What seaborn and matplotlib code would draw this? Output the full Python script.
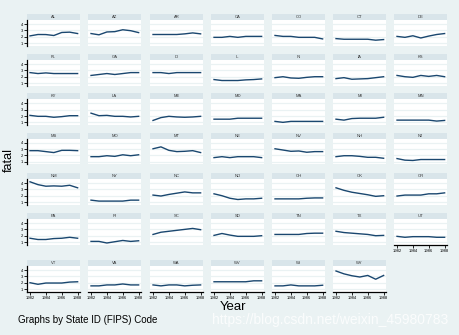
import numpy as np
import pandas as pd
import seaborn as sns
import matplotlib
matplotlib.use("Agg")
import matplotlib.pyplot as plt
from matplotlib.patches import Rectangle

# ---------------- data ----------------
years = [1982, 1983, 1984, 1985, 1986, 1987, 1988]
states = ["AL", "AZ", "AR", "CA", "CO", "CT", "DE",
          "FL", "GA", "ID", "IL", "IN", "IA", "KS",
          "KY", "LA", "ME", "MD", "MA", "MI", "MN",
          "MS", "MO", "MT", "NE", "NV", "NH", "NJ",
          "NM", "NY", "NC", "ND", "OH", "OK", "OR",
          "PA", "RI", "SC", "SD", "TN", "TX", "UT",
          "VT", "VA", "WA", "WV", "WI", "WY"]

AL = [2.13, 2.35, 2.34, 2.19, 2.67, 2.72, 2.50]
AZ = [2.50, 2.30, 2.75, 2.80, 3.10, 2.95, 2.65]
AR = [2.35, 2.35, 2.35, 2.35, 2.45, 2.60, 2.45]
CA = [1.90, 1.90, 2.05, 1.90, 2.05, 2.05, 2.05]
CO = [2.20, 2.05, 2.05, 1.90, 1.90, 1.90, 1.65]
CT = [1.70, 1.60, 1.60, 1.60, 1.60, 1.45, 1.55]
DE = [2.05, 1.90, 2.15, 1.80, 2.10, 2.35, 2.50]
FL = [2.65, 2.50, 2.60, 2.50, 2.50, 2.50, 2.50]
GA = [2.20, 2.35, 2.50, 2.35, 2.50, 2.65, 2.65]
ID = [2.65, 2.65, 2.50, 2.65, 2.65, 2.65, 2.65]
IL = [1.55, 1.40, 1.40, 1.40, 1.50, 1.55, 1.65]
IN = [1.85, 2.00, 1.80, 1.75, 1.90, 2.00, 2.00]
IA = [1.70, 1.85, 1.60, 1.65, 1.70, 1.85, 2.00]
KS = [2.20, 2.00, 1.90, 2.20, 2.05, 2.20, 2.00]
KY = [2.10, 1.95, 1.95, 1.80, 1.90, 2.05, 2.05]
LA = [2.45, 2.05, 2.10, 1.95, 1.95, 1.85, 1.95]
ME = [1.30, 1.75, 1.95, 1.85, 1.80, 1.85, 1.95]
MD = [1.50, 1.50, 1.50, 1.65, 1.65, 1.65, 1.65]
MA = [1.15, 1.00, 1.15, 1.15, 1.15, 1.15, 1.15]
MI = [1.50, 1.35, 1.60, 1.65, 1.65, 1.65, 1.80]
MN = [1.35, 1.35, 1.35, 1.35, 1.35, 1.20, 1.30]
MS = [2.75, 2.75, 2.60, 2.45, 2.80, 2.80, 2.75]
MO = [1.80, 1.80, 1.95, 1.85, 2.10, 1.95, 2.10]
MT = [3.05, 3.35, 2.80, 2.60, 2.65, 2.75, 2.45]
NE = [1.65, 1.80, 1.65, 1.80, 1.80, 1.80, 1.65]
NV = [3.05, 2.85, 2.65, 2.70, 2.50, 2.60, 2.60]
NH = [1.80, 1.95, 1.95, 1.85, 1.70, 1.70, 1.55]
NJ = [1.50, 1.25, 1.20, 1.35, 1.35, 1.35, 1.35]
NM = [4.20, 3.75, 3.50, 3.55, 3.50, 3.65, 3.25]
NY = [1.30, 1.15, 1.15, 1.15, 1.15, 1.30, 1.30]
NC = [2.10, 1.95, 2.20, 2.40, 2.60, 2.45, 2.45]
ND = [2.30, 2.00, 1.60, 1.40, 1.50, 1.50, 1.60]
OH = [1.50, 1.50, 1.50, 1.50, 1.60, 1.65, 1.65]
OK = [3.25, 2.85, 2.55, 2.35, 2.15, 1.90, 2.00]
OR = [1.95, 2.10, 2.10, 2.10, 2.30, 2.30, 2.45]
PA = [1.60, 1.40, 1.40, 1.55, 1.60, 1.75, 1.60]
RI = [1.10, 1.10, 0.85, 1.05, 1.25, 1.10, 1.20]
SC = [2.20, 2.55, 2.70, 2.85, 3.00, 3.15, 2.95]
SD = [2.05, 2.35, 2.10, 1.90, 1.90, 1.90, 2.00]
TN = [2.20, 2.20, 2.20, 2.20, 2.35, 2.40, 2.40]
TX = [2.70, 2.50, 2.40, 2.30, 2.20, 2.00, 2.05]
UT = [1.90, 1.75, 1.85, 1.85, 1.85, 1.75, 1.75]
VT = [2.00, 1.75, 1.95, 1.95, 1.95, 2.10, 2.15]
VA = [1.50, 1.50, 1.65, 1.65, 1.80, 1.65, 1.65]
WA = [1.65, 1.50, 1.65, 1.65, 1.50, 1.60, 1.65]
WV = [2.15, 2.15, 2.15, 2.15, 2.15, 2.30, 2.30]
WI = [1.50, 1.50, 1.65, 1.50, 1.50, 1.50, 1.60]
WY = [3.85, 3.40, 3.10, 2.90, 3.15, 2.55, 3.15]

y_ticks = [1, 2, 3, 4]
x_ticks = [1982, 1984, 1986, 1988]

series = {s: globals()[s] for s in states}
rows = []
for s in states:
    for yr, v in zip(years, series[s]):
        rows.append({"state": s, "year": yr, "fatal": v})
df = pd.DataFrame(rows)

# ---------------- style ----------------
BG = "#EAF2F3"
STRIP = "#D9E5EA"
LINE = "#1A476F"
plt.rcParams["font.family"] = ["Liberation Sans", "DejaVu Sans"]

W, H = 459, 335
g = sns.relplot(data=df, x="year", y="fatal", col="state", col_wrap=7,
                kind="line", color=LINE, linewidth=1.0,
                col_order=states, height=1, aspect=1,
                facet_kws=dict(sharex=True, sharey=True))
fig = g.figure
fig.set_size_inches(W / 100, H / 100)
fig.set_dpi(100)
fig.patch.set_facecolor(BG)
g.set_titles("")
g.set_axis_labels("", "")

col_x = [27, 88, 150, 211, 272, 333, 394]
row_top = [14, 54, 93.3, 132.7, 173, 213, 260]
pw = 53
sh = 6
ph = 25.7

for i, s in enumerate(states):
    ax = g.axes_dict[s]
    r, c = divmod(i, 7)
    x0 = col_x[c]
    top = row_top[r] + sh
    ax.set_position([x0 / W, 1 - (top + ph) / H, pw / W, ph / H])
    ax.set_facecolor("white")
    ax.set_xlim(1981.62, 1988.3)
    ax.set_ylim(0.58, 4.64)
    ax.set_yticks(y_ticks)
    ax.set_xticks(x_ticks)
    ax.yaxis.grid(True, color=BG, linewidth=0.9)
    ax.xaxis.grid(False)
    ax.set_axisbelow(True)
    for sp in ax.spines.values():
        sp.set_visible(False)
    bottom_col = (r == 6) or (r == 5 and c == 6)
    if c == 0:
        ax.spines["left"].set_visible(True)
        ax.spines["left"].set_color("black")
        ax.spines["left"].set_linewidth(0.9)
        ax.tick_params(axis="y", left=True, labelleft=True, length=2,
                       width=0.6, pad=1, labelsize=3, colors="black")
    else:
        ax.tick_params(axis="y", left=False, labelleft=False)
    if bottom_col:
        ax.spines["bottom"].set_visible(True)
        ax.spines["bottom"].set_color("black")
        ax.spines["bottom"].set_linewidth(0.9)
        ax.tick_params(axis="x", bottom=True, labelbottom=True, length=2,
                       width=0.6, pad=1, labelsize=3, colors="black")
    else:
        ax.tick_params(axis="x", bottom=False, labelbottom=False)
    ax.set_xlabel("")
    ax.set_ylabel("")
    # strip title
    fig.add_artist(Rectangle((x0 / W, 1 - top / H), pw / W, sh / H,
                             transform=fig.transFigure, facecolor=STRIP,
                             edgecolor="none", zorder=0))
    fig.text((x0 + pw / 2) / W, 1 - (row_top[r] + sh / 2) / H, s,
             ha="center", va="center", fontsize=3, color="#333333")

fig.text(9 / W, 1 - 160 / H, "fatal", rotation=90, ha="center", va="center",
         fontsize=9, color="black")
fig.text(233 / W, 1 - 307 / H, "Year", ha="center", va="center",
         fontsize=9.5, color="black")
fig.text(18 / W, 1 - 320 / H, "Graphs by State ID (FIPS) Code", ha="left",
         va="center", fontsize=7, color="black")
fig.text(448 / W, 1 - 320 / H, "https://blog.csdn.net/weixin_45980783",
         ha="right", va="center", fontsize=10, color="white", alpha=0.8)

fig.savefig("out.png", dpi=100, facecolor=BG)
